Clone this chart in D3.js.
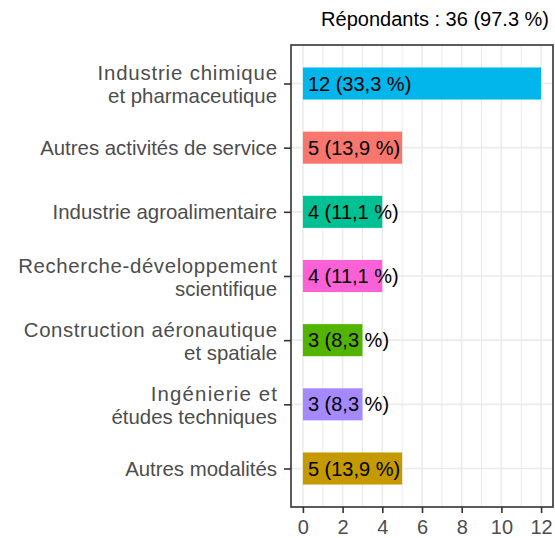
<!DOCTYPE html>
<html>
<head>
<meta charset="utf-8">
<script src="https://cdn.jsdelivr.net/npm/d3@7"></script>
<style>
  body { margin: 0; background: #fff; }
  text { font-family: "Liberation Sans", Arial, sans-serif; }
</style>
</head>
<body>
<div id="chart"></div>
<script>
// categories, top to bottom, each split into display lines
var categories = [
    ["Industrie chimique", "et pharmaceutique"],
    ["Autres activités de service"],
    ["Industrie agroalimentaire"],
    ["Recherche-développement", "scientifique"],
    ["Construction aéronautique", "et spatiale"],
    ["Ingénierie et", "études techniques"],
    ["Autres modalités"]
];
var counts = [12, 5, 4, 4, 3, 3, 5];
var pctLabels = ["33,3", "13,9", "11,1", "11,1", "8,3", "8,3", "13,9"];
var barColors = ["#00B6EB", "#F8766D", "#00C094", "#FB61D7", "#53B400", "#A58AFF", "#C49A00"];
var xTicks = [0, 2, 4, 6, 8, 10, 12];
var title = "Répondants : 36 (97.3 %)";

(function(){
    var width = 555, height = 538;
    var panel = {left: 291, top: 45, right: 553, bottom: 507};

    var svg = d3.select("#chart").append("svg")
        .attr("width", width)
        .attr("height", height);

    // ggplot-like expansion: 5% on continuous, 0.6 units on discrete
    var x = d3.scaleLinear()
        .domain([-0.6, 12.6])
        .range([panel.left, panel.right]);

    var keys = categories.map(function(d, i) { return i; });
    var y = d3.scalePoint()
        .domain(keys)
        .range([panel.top, panel.bottom])
        .padding(0.6);
    var barH = y.step() * 0.5;

    // grid lines
    var grid = svg.append("g");
    d3.range(0, 13).forEach(function(v) {
        grid.append("line")
            .attr("x1", x(v)).attr("x2", x(v))
            .attr("y1", panel.top).attr("y2", panel.bottom)
            .attr("stroke", "#EBEBEB")
            .attr("stroke-width", v % 2 === 0 ? 1.6 : 1);
    });
    keys.forEach(function(k) {
        grid.append("line")
            .attr("x1", panel.left).attr("x2", panel.right)
            .attr("y1", y(k)).attr("y2", y(k))
            .attr("stroke", "#EBEBEB")
            .attr("stroke-width", 1.6);
    });

    // bars
    svg.append("g").selectAll("rect")
        .data(keys)
        .enter().append("rect")
        .attr("x", x(0))
        .attr("y", function(k) { return y(k) - barH / 2; })
        .attr("width", function(k) { return x(counts[k]) - x(0); })
        .attr("height", barH)
        .attr("fill", function(k) { return barColors[k]; });

    // bar labels
    svg.append("g").selectAll("text")
        .data(keys)
        .enter().append("text")
        .attr("x", x(0) + 5)
        .attr("y", function(k) { return y(k) + 7; })
        .attr("font-size", 20)
        .attr("fill", "#000")
        .text(function(k) { return counts[k] + " (" + pctLabels[k] + " %)"; });

    // panel border
    svg.append("rect")
        .attr("x", panel.left).attr("y", panel.top)
        .attr("width", panel.right - panel.left)
        .attr("height", panel.bottom - panel.top)
        .attr("fill", "none")
        .attr("stroke", "#333333")
        .attr("stroke-width", 1.6);

    // x axis
    var xAxis = svg.append("g")
        .attr("transform", "translate(0," + panel.bottom + ")")
        .call(d3.axisBottom(x).tickValues(xTicks).tickSize(6).tickPadding(5).tickFormat(d3.format("d")));
    xAxis.select(".domain").remove();
    xAxis.selectAll(".tick line").attr("stroke", "#333333").attr("stroke-width", 1.6);
    xAxis.selectAll(".tick text")
        .attr("fill", "#4D4D4D")
        .attr("font-size", 20)
        .attr("font-family", "Liberation Sans, Arial, sans-serif")
        .attr("dy", "0.78em");

    // y axis
    var yAxis = svg.append("g")
        .attr("transform", "translate(" + panel.left + ",0)")
        .call(d3.axisLeft(y).tickSize(7).tickFormat(""));
    yAxis.select(".domain").remove();
    yAxis.selectAll(".tick line").attr("stroke", "#333333").attr("stroke-width", 1.6);

    var ylab = svg.append("g").selectAll("text")
        .data(keys)
        .enter().append("text")
        .attr("font-size", 20.4)
        .attr("fill", "#4D4D4D");
    ylab.each(function(k) {
        var lines = categories[k];
        var g = d3.select(this.parentNode);
        d3.select(this).remove();
        lines.forEach(function(line, j) {
            var off = lines.length === 1 ? 7 : (j === 0 ? -3.5 : 19.5);
            var t = g.append("text")
                .attr("font-size", 20.4)
                .attr("fill", "#4D4D4D")
                .attr("y", y(k) + off)
                .text(line);
            var w = t.node().getComputedTextLength();
            // first line of a wrapped label runs a little wider in the original
            if (lines.length > 1 && j === 0) w += 14;
            t.attr("x", 277 - w).attr("textLength", w).attr("lengthAdjust", "spacing");
        });
    });

    // title
    svg.append("text")
        .attr("x", 549)
        .attr("y", 26)
        .attr("text-anchor", "end")
        .attr("font-size", 20)
        .attr("fill", "#000")
        .text(title);
})();
</script>
</body>
</html>
